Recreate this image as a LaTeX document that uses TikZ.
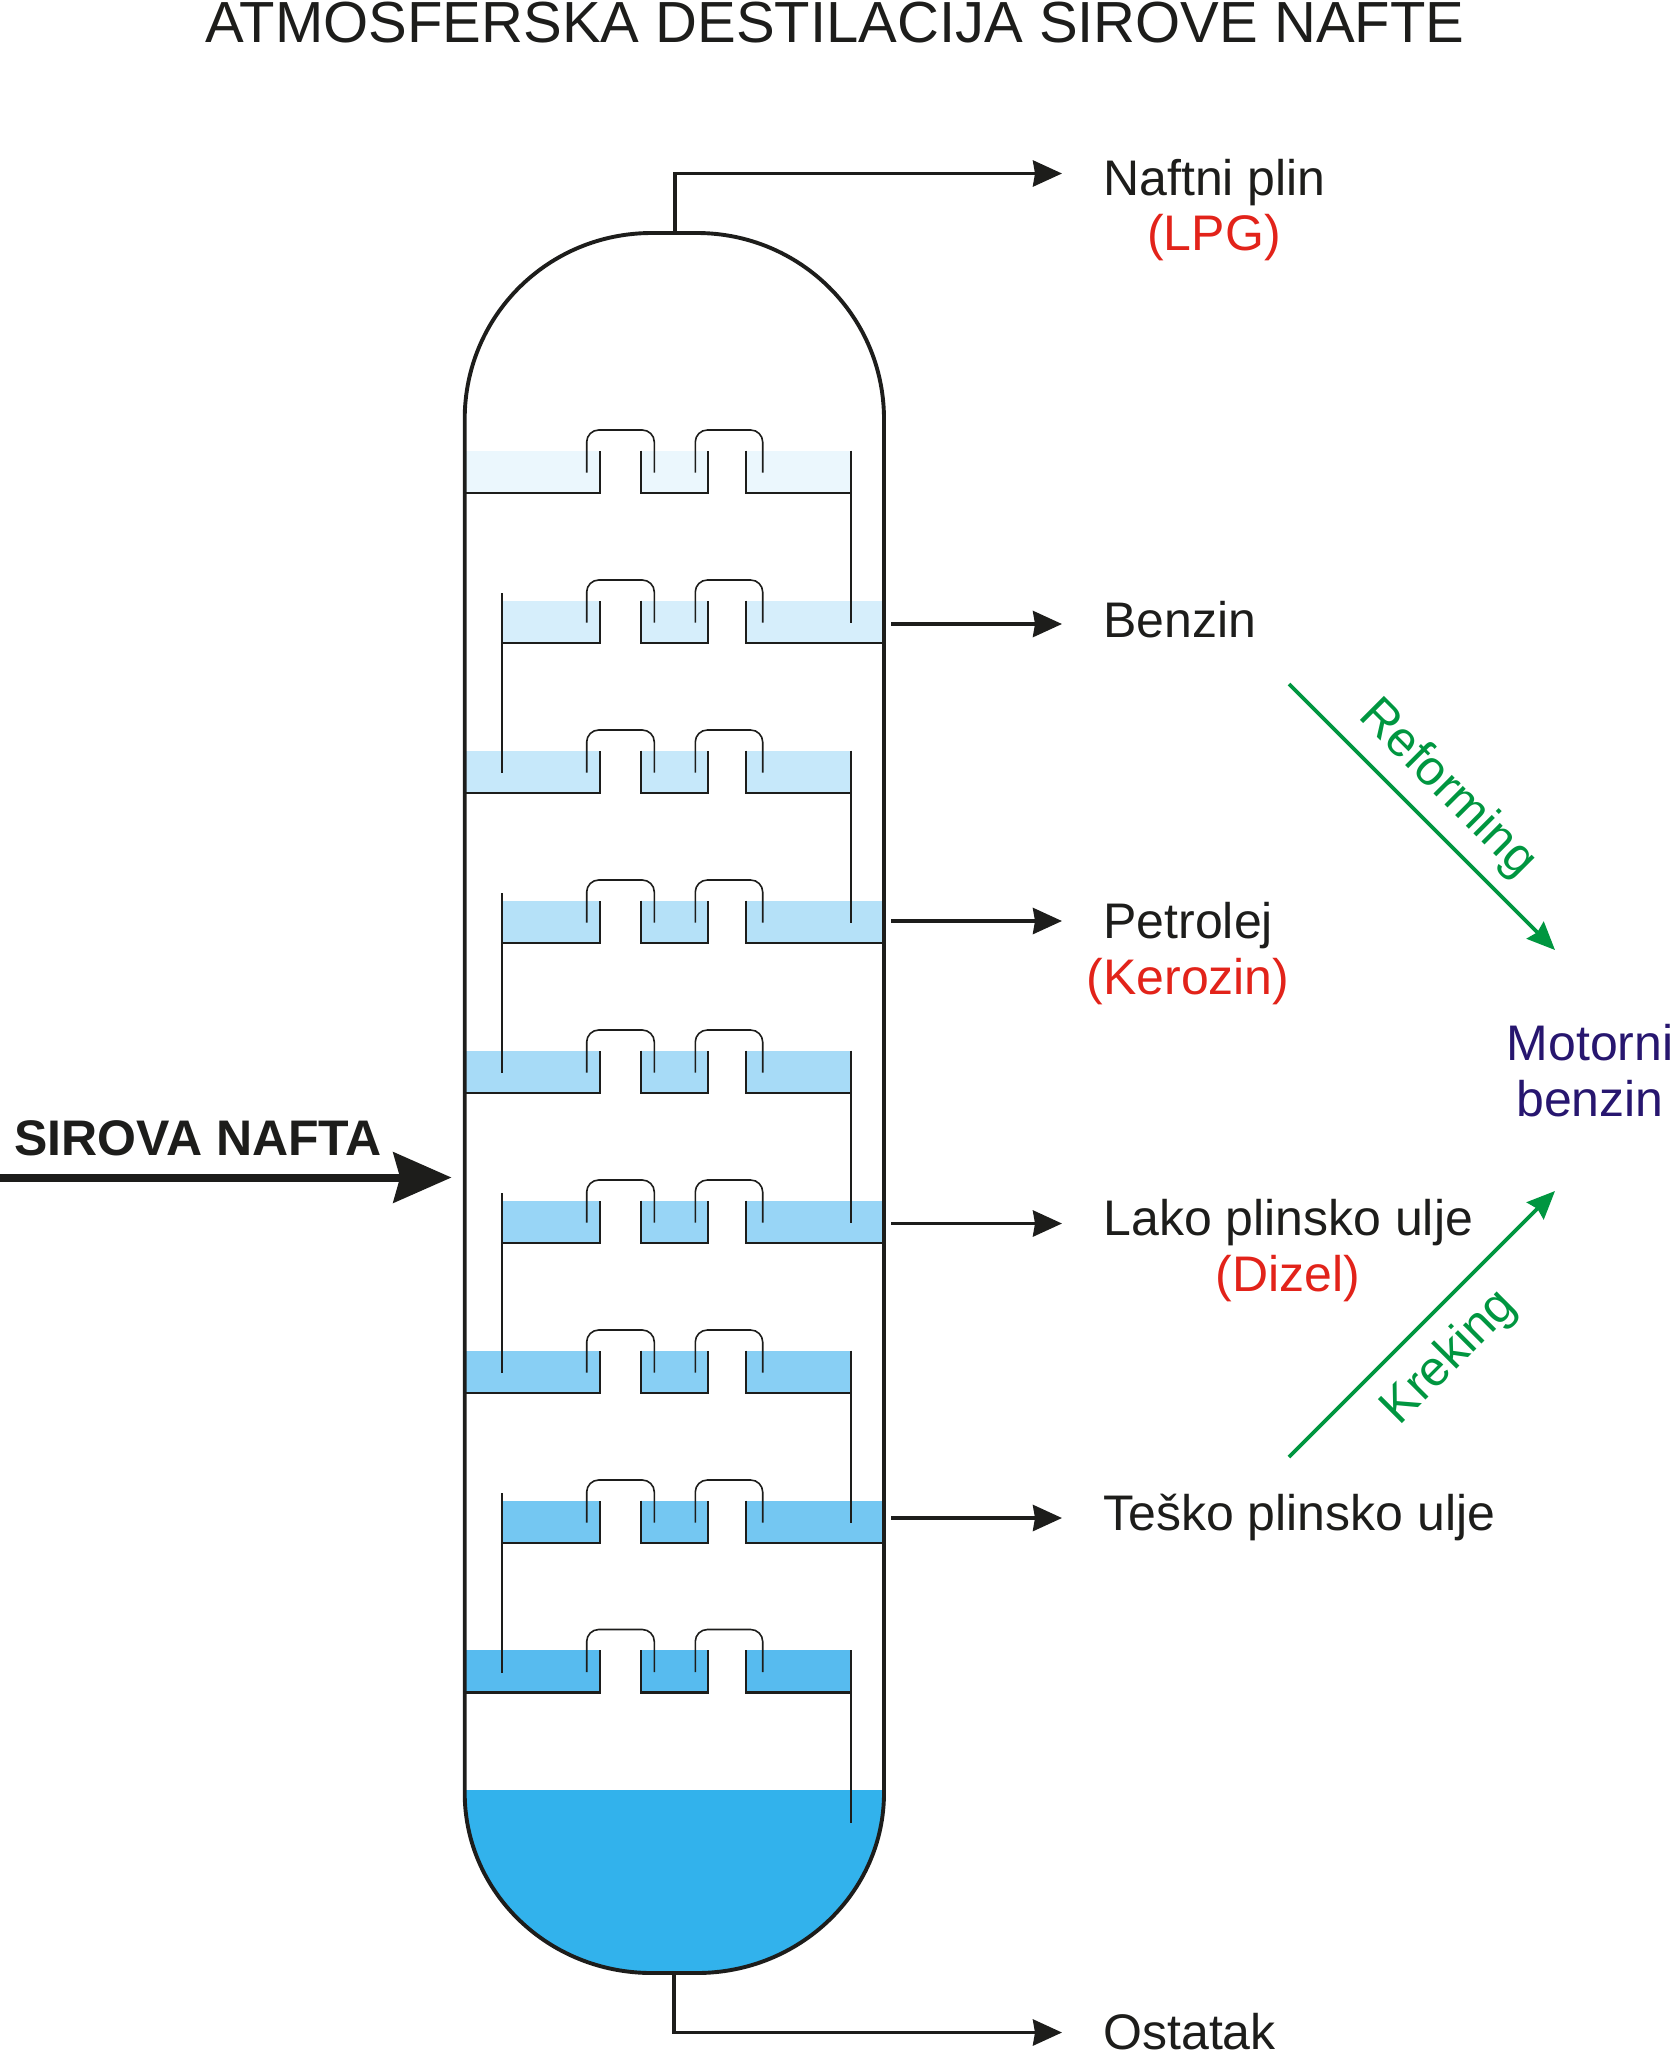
\documentclass[tikz,border=0pt]{standalone}
\usepackage{fontspec}
\setmainfont{Liberation Sans}
\usetikzlibrary{arrows.meta}
\definecolor{inkcolor}{RGB}{29, 29, 27}
\definecolor{gradecolor}{RGB}{226, 35, 26}
\definecolor{motorcolor}{RGB}{39, 22, 111}
\definecolor{crackcolor}{RGB}{0, 150, 64}
\definecolor{liquidcolor}{RGB}{50, 178, 236}
\definecolor{traycolor}{RGB}{50, 172, 236}
\tikzset{
    capline/.style={draw=inkcolor, line width=0.8pt, rounded corners=6pt},
    deckline/.style={draw=inkcolor, line width=1.1pt},
    pipeline/.style={draw=inkcolor, line width=0.9pt},
    traycaps/.pic={
        \draw[capline] (586.7,22) -- (586.7,-20.5) -- (654.3,-20.5) -- (654.3,22);
        \draw[capline] (695.3,22) -- (695.3,-20.5) -- (762.7,-20.5) -- (762.7,22);
        \draw[deckline] (641.3,0) -- (641.3,42.5) -- (708.3,42.5) -- (708.3,0);
    },
    % tray with its downcomer on the right
    righttray/.pic={
        \fill[traycolor!#1] (465,0) rectangle (600.3,42.5);
        \fill[traycolor!#1] (641.3,0) rectangle (708.3,42.5);
        \fill[traycolor!#1] (746,0) rectangle (851,42.5);
        \pic {traycaps};
        \draw[deckline] (465,42.5) -- (600.3,42.5) -- (600.3,0);
        \draw[deckline] (746,0) -- (746,42.5) -- (851,42.5);
        \draw[pipeline] (851,0) -- (851,172.5);
    },
    % tray with its downcomer on the left
    lefttray/.pic={
        \fill[traycolor!#1] (501.7,0) rectangle (600.3,42.5);
        \fill[traycolor!#1] (641.3,0) rectangle (708.3,42.5);
        \fill[traycolor!#1] (746,0) rectangle (884,42.5);
        \pic {traycaps};
        \draw[deckline] (501.7,42.5) -- (600.3,42.5) -- (600.3,0);
        \draw[deckline] (746,0) -- (746,42.5) -- (884,42.5);
        \draw[pipeline] (501.7,-7.5) -- (501.7,172.5);
    }
}

\begin{document}
\begin{tikzpicture}[
    x=0.5pt, y=-0.5pt,
    product/.style={anchor=base west, inner sep=0pt, text=inkcolor, font=\fontsize{25}{28}\selectfont},
    grade/.style={anchor=base, inner sep=0pt, text=gradecolor, font=\fontsize{25}{28}\selectfont},
    motor/.style={anchor=base, inner sep=0pt, text=motorcolor, font=\fontsize{25}{28}\selectfont},
    process/.style={inner sep=0pt, text=crackcolor, font=\fontsize{24.7}{28}\selectfont},
    outflow/.style={-{Stealth[length=14.5pt, width=13pt, inset=1pt]}, draw=inkcolor, line width=1.9pt, shorten >=20.5pt},
    crackflow/.style={-{Stealth[length=14pt, width=12pt, inset=1.5pt]}, draw=crackcolor, line width=1.8pt},
    feedflow/.style={-{Stealth[length=29pt, width=25pt, inset=3.3pt]}, draw=inkcolor, line width=4pt}
]
\useasboundingbox (0,0) rectangle (1671,2051);

% Liquid at the bottom
\fill[liquidcolor] (464.7,1790) -- (884,1790) -- (884,1793) .. controls (884,1892) and (800,1973) .. (697,1973)
    -- (651.7,1973) .. controls (548,1973) and (464.7,1892) .. (464.7,1793) -- cycle;

% Trays, from the bottom up so that each downcomer stays on top of the tray below
\pic at (0,1650) {righttray=82};
\pic at (0,1500.5) {lefttray=68};
\pic at (0,1350.5) {righttray=58};
\pic at (0,1200.5) {lefttray=50};
\pic at (0,1050.5) {righttray=43};
\pic at (0,900.5) {lefttray=36};
\pic at (0,750.5) {righttray=28};
\pic at (0,600.5) {lefttray=20};
\pic at (0,450.5) {righttray=10};

% Vessel
\draw[draw=inkcolor, line width=1.95pt] (464.7,419) .. controls (464.7,316) and (548,233) .. (651.7,233) -- (697,233)
    .. controls (800,233) and (884,316) .. (884,419) -- (884,1793) .. controls (884,1892) and (800,1973) .. (697,1973)
    -- (651.7,1973) .. controls (548,1973) and (464.7,1892) .. (464.7,1793) -- cycle;

% Title
\node[inner sep=0pt, anchor=base, text=inkcolor, font=\fontsize{29}{34}\selectfont] (title) at (835,42) {ATMOSFERSKA DESTILACIJA SIROVE NAFTE};

% Products
\node[product] (naftni) at (1103,195) {Naftni plin};
\node[grade] (lpg) at (1214,250) {(LPG)};
\node[product] (benzin) at (1103,637) {Benzin};
\node[product] (petrolej) at (1103,938) {Petrolej};
\node[grade] (kerozin) at (1188,994) {(Kerozin)};
\node[product] (lako) at (1103,1235) {Lako plinsko ulje};
\node[grade] (dizel) at (1288,1291) {(Dizel)};
\node[product] (tesko) at (1103,1530) {Teško plinsko ulje};
\node[product] (ostatak) at (1103,2049) {Ostatak};
\node[motor] (motorni) at (1590,1060) {Motorni};
\node[motor] (motbenzin) at (1590,1116) {benzin};

% Outlet arrows
\coordinate (topout) at (675,233);
\coordinate (topbend) at (675,173.5);
\coordinate (benzinout) at (891,624);
\coordinate (petrolejout) at (891,921);
\coordinate (lakoout) at (891,1223.5);
\coordinate (teskoout) at (891,1518);
\coordinate (botout) at (674,1973);
\coordinate (botbend) at (674,2032.5);
\draw[outflow] (topout) -- (topbend) -- (topbend -| naftni.west);
\draw[outflow] (benzinout) -- (benzinout -| benzin.west);
\draw[outflow] (petrolejout) -- (petrolejout -| petrolej.west);
\draw[outflow] (lakoout) -- (lakoout -| lako.west);
\draw[outflow] (teskoout) -- (teskoout -| tesko.west);
\draw[outflow] (botout) -- (botbend) -- (botbend -| ostatak.west);

% Feed
\node[inner sep=0pt, anchor=base west, text=inkcolor, font=\fontsize{25}{28}\selectfont\bfseries] (sirova) at (14,1155) {SIROVA NAFTA};
\coordinate (feedstart) at (0,1177.5);
\coordinate (feedend) at (451.5,1177.5);
\draw[feedflow] (feedstart) -- (feedend);

% Reforming and kreking
\coordinate (reformstart) at (1289,684);
\coordinate (reformend) at (1555,950);
\coordinate (krekstart) at (1289,1457);
\coordinate (krekend) at (1555,1191);
\draw[crackflow] (reformstart) -- (reformend);
\draw[crackflow] (krekstart) -- (krekend);
\node[process, rotate=-45] (reforming) at (1447,789) {Reforming};
\node[process, rotate=45] (kreking) at (1450,1358) {Kreking};

\end{tikzpicture}
\end{document}
